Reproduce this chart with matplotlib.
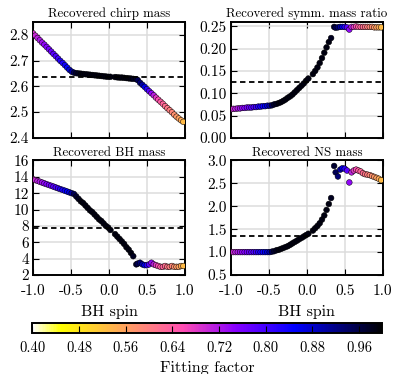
import numpy as np
import matplotlib
matplotlib.use("Agg")
import matplotlib.pyplot as plt

plt.rcParams["font.family"] = "serif"
plt.rcParams["font.serif"] = ["cmr10"]
plt.rcParams["mathtext.fontset"] = "cm"
plt.rcParams["axes.formatter.use_mathtext"] = True

# BH spin of each injection
spin = [-1.00, -0.97, -0.94, -0.91, -0.88, -0.85, -0.82, -0.79, -0.76, -0.73,
        -0.70, -0.67, -0.64, -0.61, -0.58, -0.55, -0.52, -0.49,
        -0.46, -0.43, -0.40, -0.37, -0.34, -0.31, -0.28, -0.25, -0.22, -0.19,
        -0.16, -0.13, -0.10, -0.07, -0.04, -0.01, 0.02,
        0.08, 0.11, 0.14, 0.17, 0.20, 0.23, 0.26, 0.29, 0.32,
        0.36, 0.38, 0.41, 0.44, 0.47, 0.50, 0.53, 0.56, 0.59, 0.62,
        0.65, 0.68, 0.71, 0.74, 0.77, 0.80, 0.83, 0.86, 0.89, 0.92, 0.95, 0.98]

# fitting factor (colour)
ff = [0.69, 0.70, 0.71, 0.72, 0.73, 0.74, 0.75, 0.76, 0.77, 0.78,
      0.79, 0.80, 0.82, 0.83, 0.84, 0.85, 0.87, 0.90,
      0.95, 0.97, 0.98, 0.99, 0.99, 0.99, 0.99, 0.99, 0.99, 0.99,
      0.99, 0.99, 0.99, 0.99, 0.99, 0.99, 0.99,
      0.99, 0.99, 0.99, 0.99, 0.99, 0.99, 0.99, 0.99, 0.98,
      0.97, 0.95, 0.93, 0.90, 0.86, 0.82, 0.78, 0.74, 0.71, 0.68,
      0.66, 0.64, 0.63, 0.62, 0.61, 0.60, 0.59, 0.58, 0.57, 0.56, 0.55, 0.53]

chirp_mass = [2.806, 2.797, 2.788, 2.779, 2.770, 2.762, 2.753, 2.744, 2.735, 2.726,
              2.717, 2.708, 2.699, 2.691, 2.682, 2.673, 2.664, 2.657,
              2.653, 2.651, 2.650, 2.649, 2.648, 2.647, 2.646, 2.645, 2.644, 2.643,
              2.642, 2.641, 2.640, 2.639, 2.638, 2.637, 2.637,
              2.636, 2.635, 2.634, 2.634, 2.633, 2.632, 2.631, 2.630, 2.629,
              2.628, 2.624, 2.614, 2.606, 2.598, 2.589, 2.581, 2.573, 2.565, 2.556,
              2.548, 2.540, 2.532, 2.523, 2.515, 2.507, 2.499, 2.490, 2.482, 2.475, 2.468, 2.462]

eta = [0.064, 0.065, 0.065, 0.066, 0.066, 0.067, 0.067, 0.068, 0.068, 0.068,
       0.069, 0.069, 0.070, 0.070, 0.071, 0.071, 0.072, 0.072,
       0.073, 0.075, 0.076, 0.078, 0.080, 0.083, 0.086, 0.090, 0.093, 0.097,
       0.102, 0.107, 0.112, 0.117, 0.122, 0.128, 0.133,
       0.143, 0.150, 0.158, 0.168, 0.179, 0.191, 0.203, 0.215, 0.224,
       0.249, 0.247, 0.248, 0.249, 0.249, 0.249, 0.248, 0.243, 0.249, 0.249,
       0.250, 0.249, 0.249, 0.249, 0.249, 0.249, 0.249, 0.249, 0.248, 0.248, 0.248, 0.248]

bh_mass = [13.7, 13.6, 13.5, 13.4, 13.3, 13.2, 13.1, 13.0, 12.9, 12.8,
           12.7, 12.6, 12.5, 12.4, 12.3, 12.2, 12.1, 12.0,
           11.9, 11.6, 11.3, 11.0, 10.8, 10.5, 10.2, 9.9, 9.7, 9.4,
           9.1, 8.8, 8.6, 8.3, 8.0, 7.8, 7.5,
           7.0, 6.7, 6.4, 6.1, 5.8, 5.4, 5.1, 4.7, 4.3,
           3.3, 3.4, 3.5, 3.3, 3.2, 3.2, 3.3, 3.5, 3.3, 3.2,
           3.1, 3.0, 3.0, 3.1, 3.0, 3.0, 3.1, 3.0, 3.0, 3.0, 3.1, 3.1]

ns_mass = [1.00, 1.00, 1.00, 1.00, 1.00, 1.00, 1.00, 1.00, 1.00, 1.00,
           1.00, 1.00, 1.00, 1.00, 1.00, 1.00, 1.00, 1.00,
           1.01, 1.02, 1.04, 1.05, 1.07, 1.09, 1.11, 1.13, 1.16, 1.19,
           1.22, 1.25, 1.28, 1.31, 1.34, 1.37, 1.40,
           1.47, 1.52, 1.57, 1.63, 1.71, 1.80, 1.92, 2.05, 2.18,
           2.88, 2.74, 2.65, 2.80, 2.83, 2.82, 2.78, 2.52, 2.74, 2.78,
           2.80, 2.78, 2.76, 2.72, 2.70, 2.69, 2.68, 2.66, 2.64, 2.62, 2.60, 2.57]

# true injected values (dashed lines)
true_vals = [2.636, 0.126, 7.8, 1.36]
titles = ["Recovered chirp mass", "Recovered symm. mass ratio",
          "Recovered BH mass", "Recovered NS mass"]
ylims = [(2.4, 2.85), (0.0, 0.26), (2, 16), (0.5, 3.0)]
yticks = [[2.4, 2.5, 2.6, 2.7, 2.8],
          [0.00, 0.05, 0.10, 0.15, 0.20, 0.25],
          [2, 4, 6, 8, 10, 12, 14, 16],
          [0.5, 1.0, 1.5, 2.0, 2.5, 3.0]]
yfmt = ["%.1f", "%.2f", "%d", "%.1f"]
cbar_ticks = [0.40, 0.48, 0.56, 0.64, 0.72, 0.80, 0.88, 0.96]

fig = plt.figure(figsize=(4.15, 3.74), dpi=100)
pos = [[0.0795, 0.6316, 0.366, 0.3096],
       [0.5566, 0.6316, 0.3655, 0.3096],
       [0.0795, 0.2647, 0.366, 0.3063],
       [0.5566, 0.2647, 0.3655, 0.3063]]
series = [chirp_mass, eta, bh_mass, ns_mass]

for i in range(4):
    ax = fig.add_axes(pos[i])
    ax.grid(True, color="#dcdcdc", lw=1.1, zorder=0)
    ax.set_axisbelow(True)
    sc = ax.scatter(spin, series[i], c=ff, cmap="gnuplot2_r", vmin=0.4, vmax=1.0,
                    s=17, edgecolors="k", linewidths=0.35, zorder=3)
    ax.axhline(true_vals[i], color="k", ls=(0, (3, 2)), lw=1.3, zorder=4)
    ax.set_xlim(-1, 1)
    ax.set_ylim(*ylims[i])
    ax.set_xticks([-1.0, -0.5, 0.0, 0.5, 1.0])
    ax.set_yticks(yticks[i])
    ax.yaxis.set_major_formatter(plt.FormatStrFormatter(yfmt[i]))
    ax.xaxis.set_major_formatter(plt.FormatStrFormatter("%.1f"))
    ax.tick_params(direction="in", top=True, right=True, length=4, width=0.8,
                   labelsize=11)
    ax.tick_params(axis="x", pad=6.5)
    ax.tick_params(axis="y", pad=3)
    for sp in ax.spines.values():
        sp.set_linewidth(1.4)
    ax.set_title(titles[i], fontsize=9.3, pad=3.5)
    if i < 2:
        ax.tick_params(labelbottom=False)
    else:
        ax.set_xlabel("BH spin", fontsize=11.5, labelpad=5.5)

cax = fig.add_axes([0.0778, 0.1096, 0.8435, 0.0267])
cb = fig.colorbar(sc, cax=cax, orientation="horizontal", ticks=cbar_ticks)
cb.ax.xaxis.set_major_formatter(plt.FormatStrFormatter("%.2f"))
cb.ax.tick_params(direction="in", length=5, width=0.8, labelsize=10.5, pad=6)
cb.outline.set_linewidth(1.4)
cb.set_label("Fitting factor", fontsize=11.5, labelpad=4.5)

fig.savefig("out.png", dpi=100)
